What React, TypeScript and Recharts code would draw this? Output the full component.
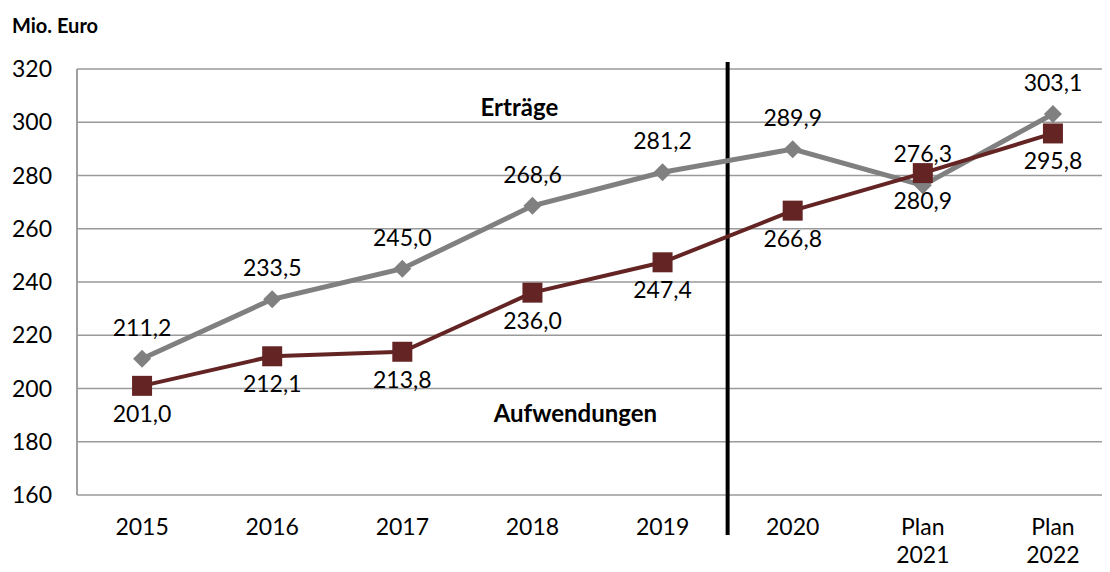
import {
  LineChart, Line, XAxis, YAxis, CartesianGrid, ReferenceLine, ReferenceDot,
} from 'recharts'

const categories = ['2015', '2016', '2017', '2018', '2019', '2020', 'Plan\n2021', 'Plan\n2022']
const ertraege = [211.2, 233.5, 245.0, 268.6, 281.2, 289.9, 276.3, 303.1]
const aufwendungen = [201.0, 212.1, 213.8, 236.0, 247.4, 266.8, 280.9, 295.8]
const yTicks = [160, 180, 200, 220, 240, 260, 280, 300, 320]

// positions on a numeric axis: category i sits in the middle of [i, i+1]
const data = categories.map((c, i) => ({
  pos: i + 0.5,
  year: c,
  ertraege: ertraege[i],
  aufwendungen: aufwendungen[i],
}))
const boundaryTicks = categories.map((_, i) => i).concat(categories.length)
const centerTicks = data.map((d) => d.pos)

const FONT = 'Lato, "Open Sans", sans-serif'
const GRID = '#9a9a9a'
const GRAY = '#808080'
const RED = '#632423'
const FS = 23

const fmt = (v: number) => v.toFixed(1).replace('.', ',')

function Diamond({ cx, cy }: { cx?: number; cy?: number }) {
  if (cx == null || cy == null) return null
  const s = 9
  return <polygon points={`${cx},${cy - s} ${cx + s},${cy} ${cx},${cy + s} ${cx - s},${cy}`} fill={GRAY} />
}

function Square({ cx, cy }: { cx?: number; cy?: number }) {
  if (cx == null || cy == null) return null
  return <rect x={cx - 10} y={cy - 10} width={20} height={20} fill={RED} />
}

const grayLabel = (p: any) => (
  <text x={p.x} y={p.y - 23} textAnchor="middle" fontSize={FS} fontFamily={FONT} fill="#000">
    {fmt(p.value)}
  </text>
)
const redLabel = (p: any) => (
  <text x={p.x} y={p.y + 36} textAnchor="middle" fontSize={FS} fontFamily={FONT} fill="#000">
    {fmt(p.value)}
  </text>
)

function YearTick({ x, y, payload }: any) {
  const idx = Math.round(payload.value - 0.5)
  const lines = (categories[idx] ?? '').split('\n')
  return (
    <text x={x} y={y + 34} textAnchor="middle" fontSize={FS} fontFamily={FONT} fill="#000">
      {lines.map((l, i) => (
        <tspan key={i} x={x} dy={i === 0 ? 0 : 28}>{l}</tspan>
      ))}
    </text>
  )
}

const boldText = (text: string) => (p: any) => {
  const vb = p.viewBox || {}
  return (
    <text x={vb.x + (vb.width || 0) / 2} y={vb.y + (vb.height || 0) / 2 + 8} textAnchor="middle"
      fontSize={24} fontWeight="bold" fontFamily={FONT} fill="#000">
      {text}
    </text>
  )
}

export default function App() {
  return (
    <div style={{ position: 'relative', margin: '-8px 0 0 -8px', width: 1110, height: 572, overflow: 'hidden', background: '#fff' }}>
      <div style={{ position: 'absolute', left: 12, top: 13, fontFamily: FONT, fontWeight: 'bold', fontSize: 20 }}>
        Mio. Euro
      </div>
      <LineChart width={1118} height={572} data={data} margin={{ top: 69, right: 0, bottom: 0, left: 0 }}>
        <CartesianGrid stroke={GRID} strokeWidth={1.5} />
        <XAxis
          xAxisId={0}
          type="number"
          dataKey="pos"
          domain={[0, categories.length]}
          ticks={boundaryTicks}
          interval={0}
          tick={false}
          tickLine={false}
          axisLine={{ stroke: GRID, strokeWidth: 1.5 }}
          height={0}
        />
        <XAxis
          xAxisId="lbl"
          type="number"
          dataKey="pos"
          domain={[0, categories.length]}
          ticks={centerTicks}
          interval={0}
          tick={<YearTick />}
          tickLine={false}
          axisLine={false}
          tickMargin={0}
          height={77}
        />
        <YAxis
          type="number"
          domain={[160, 320]}
          ticks={yTicks}
          interval={0}
          width={77}
          tickLine={false}
          tickMargin={19}
          axisLine={{ stroke: GRID, strokeWidth: 1.5 }}
          tick={{ fontSize: FS, fontFamily: FONT, fill: '#000' }}
        />
        <ReferenceLine
          segment={[{ x: 5, y: 322.6 }, { x: 5, y: 145 }]}
          stroke="#000"
          strokeWidth={4}
          ifOverflow="visible"
        />
        <ReferenceDot x={3.4} y={305.4} r={0} ifOverflow="visible" label={boldText('Erträge')} />
        <ReferenceDot x={3.83} y={190.4} r={0} ifOverflow="visible" label={boldText('Aufwendungen')} />
        <Line
          dataKey="ertraege"
          stroke={GRAY}
          strokeWidth={5}
          dot={<Diamond />}
          activeDot={false}
          label={grayLabel}
          isAnimationActive={false}
        />
        <Line
          dataKey="aufwendungen"
          stroke={RED}
          strokeWidth={4}
          dot={<Square />}
          activeDot={false}
          label={redLabel}
          isAnimationActive={false}
        />
      </LineChart>
    </div>
  )
}
